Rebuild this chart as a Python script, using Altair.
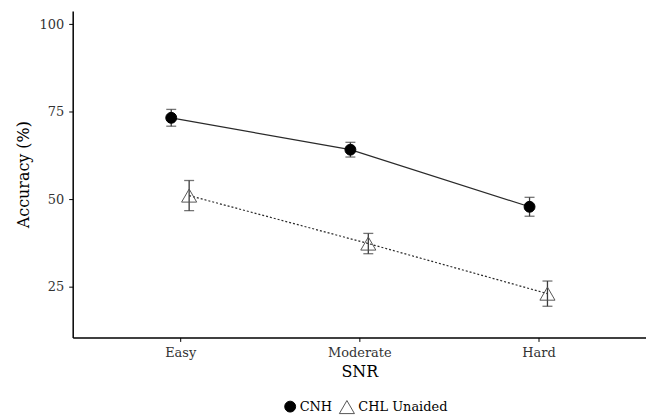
import altair as alt
import pandas as pd

snr = ["Easy", "Moderate", "Hard"]
groups = ["CNH", "CHL Unaided"]
cnh_mean = [73.3, 64.2, 47.9]
cnh_err = [2.4, 2.1, 2.7]
chl_mean = [51.1, 37.4, 23.1]
chl_err = [4.3, 2.9, 3.6]
y_ticks = [25, 50, 75, 100]

rows = []
for g, means, errs in [(groups[0], cnh_mean, cnh_err), (groups[1], chl_mean, chl_err)]:
    for s, m, e in zip(snr, means, errs):
        rows.append({"group": g, "snr": s, "mean": m, "lo": m - e, "hi": m + e})
df = pd.DataFrame(rows)

FONT = "DejaVu Serif"
snr_js = "[" + ",".join("'%s'" % s for s in snr) + "]"

base = alt.Chart(df).transform_calculate(
    xpos=f"indexof({snr_js}, datum.snr) + 1 + (datum.group == '{groups[0]}' ? -0.05 : 0.05)"
)

x = alt.X("xpos:Q", scale=alt.Scale(domain=[0.4, 3.6], nice=False, zero=False),
          axis=alt.Axis(values=[1, 2, 3], labelExpr=f"{snr_js}[datum.value - 1]",
                        title="SNR", grid=False))
yscale = alt.Scale(domain=[10.6, 103.8], nice=False, zero=False)
y = alt.Y("mean:Q", scale=yscale,
          axis=alt.Axis(values=y_ticks, title="Accuracy (%)", grid=False))

line_cnh = base.transform_filter(alt.datum.group == groups[0]).mark_line(
    color="#2a2a2a", strokeWidth=1.2).encode(x=x, y=y)
line_chl = base.transform_filter(alt.datum.group == groups[1]).mark_line(
    color="#2a2a2a", strokeWidth=1.2, strokeDash=[2, 2]).encode(x="xpos:Q", y=alt.Y("mean:Q", scale=yscale))

rules = base.mark_rule(color="#3a3a3a", strokeWidth=1.3).encode(
    x="xpos:Q", y=alt.Y("lo:Q", scale=yscale), y2="hi:Q"
)
tick_lo = base.mark_tick(orient="horizontal", color="#3a3a3a", size=10, thickness=1.3).encode(
    x="xpos:Q", y=alt.Y("lo:Q", scale=yscale)
)
tick_hi = base.mark_tick(orient="horizontal", color="#3a3a3a", size=10, thickness=1.3).encode(
    x="xpos:Q", y=alt.Y("hi:Q", scale=yscale)
)

leg = alt.Legend(title=None, orient="none", direction="horizontal", legendX=212, legendY=389,
                 labelFont=FONT, labelFontSize=13, labelColor="black",
                 symbolStrokeWidth=1, columnPadding=4, labelOffset=3)
points = base.mark_point(strokeWidth=1, opacity=1).encode(
    x="xpos:Q", y=alt.Y("mean:Q", scale=yscale),
    shape=alt.Shape("group:N", scale=alt.Scale(domain=groups, range=["circle", "triangle-up"]), legend=leg),
    fill=alt.Fill("group:N", scale=alt.Scale(domain=groups, range=["black", "rgba(255,255,255,0)"]), legend=leg),
    stroke=alt.Stroke("group:N", scale=alt.Scale(domain=groups, range=["black", "#555555"]), legend=leg),
    size=alt.Size("group:N", scale=alt.Scale(domain=groups, range=[120, 230]), legend=leg),
)

chart = alt.layer(line_cnh, line_chl, rules, tick_lo, tick_hi, points).properties(
    width=576, height=328,
    autosize=alt.AutoSizeParams(type="none"),
    padding={"left": 65, "top": 2, "right": 0, "bottom": 87},
).configure_view(stroke=None).configure_axis(
    domainColor="black", domainWidth=1.5, tickColor="black", tickWidth=1, tickSize=4,
    labelFont=FONT, labelFontSize=13, labelColor="#333333", labelPadding=5,
    titleFont=FONT, titleFontSize=16, titleColor="black", titleFontWeight="normal",
).configure_axisX(titlePadding=4).configure_axisY(titlePadding=8)

chart.save("out.html", embed_options={"renderer": "svg", "actions": False})
